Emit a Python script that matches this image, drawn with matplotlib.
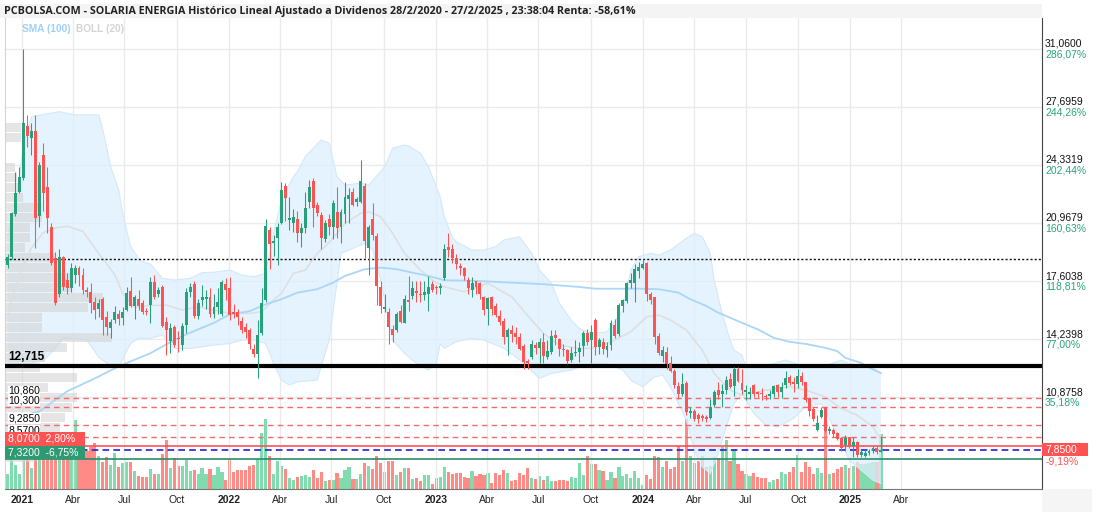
import numpy as np
import matplotlib
matplotlib.use('Agg')
import matplotlib.pyplot as plt
import matplotlib.dates as mdates
from matplotlib.patches import Rectangle
from matplotlib.transforms import blended_transform_factory
import pandas as pd

plt.rcParams['font.family'] = ['Liberation Sans', 'DejaVu Sans']

# weekly candles, first week 7/12/2020
dates = pd.date_range('2020-12-07', periods=221, freq='7D')

open_ = [18.55, 19.0, 21.5, 22.8, 23.6, 26.6, 25.9, 26.3, 21.4, 24.93, 23.1, 20.77, 18.94, 16.9, 19.0, 17.7, 17.2, 17.97, 18.4, 17.97,
         17.1, 17.0, 16.4, 16.0, 16.6, 15.55, 14.88, 15.36, 15.74, 15.5, 15.96, 17.04, 16.17, 16.6, 16.36, 15.86,
         16.23, 17.58, 16.9, 17.3, 15.27, 14.16, 14.98, 14.35, 13.91, 15.07, 17.0, 17.45, 15.6, 16.5, 16.6, 16.7, 15.7, 16.13, 15.74,
         17.48, 17.2, 15.8, 15.84, 15.3, 14.97, 14.78, 13.66, 13.39, 14.59, 16.52, 20.6, 19.85, 20.1, 20.99, 23.15, 21.15, 21.0, 21.2,
         20.39, 20.68, 22.2, 23.4, 22.03, 21.45, 20.04, 21.2, 20.74, 21.65, 20.74, 21.5, 22.35, 22.8, 22.22, 22.22, 23.15, 19.52,
         21.22, 20.23, 17.29, 16.0, 15.84, 14.84, 14.78, 15.88, 15.2, 16.5, 16.75, 17.05, 16.9, 16.8, 16.9, 17.45, 17.3, 17.2, 17.78,
         19.6, 19.46, 18.98, 18.5, 18.36, 17.68, 17.1, 17.6, 17.5, 16.7, 16.0, 16.7, 16.2, 15.6, 15.3, 14.4, 14.8, 14.6, 14.4, 13.85,
         13.0, 13.2, 13.9, 13.75, 14.1, 13.2, 13.5, 14.5, 14.24, 13.7, 13.6, 13.07, 13.45, 13.5, 13.85, 14.59, 14.2,
         15.36, 13.81, 14.1, 13.6, 13.9, 15.1, 14.55, 16.2, 16.46, 17.5, 17.5, 18.2, 18.4, 18.65, 16.85, 16.67, 14.43, 13.3, 13.5,
         12.9, 12.42, 11.55, 11.1, 11.7, 10.0, 10.08, 9.86, 9.8, 9.75, 9.66, 10.43, 11.3, 11.1, 11.3, 11.95, 11.55, 12.5,
         11.7, 11.2, 11.1, 11.6, 11.2, 11.15, 10.95, 10.95, 11.05, 11.6, 11.2, 11.6, 12.06, 11.8, 11.66, 12.1, 11.8, 10.84, 10.2,
         9.0, 9.75, 10.3, 8.95, 8.97, 8.8, 8.55, 8.1, 8.6, 8.05, 8.3, 7.53, 7.5, 7.68, 7.75, 7.95, 7.74]
high = [19.2, 21.65, 23.96, 24.25, 31.06, 27.25, 26.77, 27.25, 24.55, 25.6, 24.25, 20.97, 19.3, 19.46, 19.1, 18.1, 18.65, 18.55, 18.5, 18.4,
        17.3, 17.5, 16.7, 16.6, 16.7, 15.9, 15.45, 16.2, 15.94, 16.1, 17.3, 17.87, 16.8, 17.1, 16.5, 16.05,
        17.87, 17.97, 17.3, 17.4, 15.55, 15.17, 15.1, 14.7, 15.2, 17.2, 17.5, 17.6, 16.6, 17.4, 17.1, 17.2, 16.86, 17.2, 17.7,
        17.8, 17.87, 16.3, 16.0, 15.55, 15.17, 14.88, 13.95, 15.36, 17.2, 21.2, 20.77, 20.3, 20.97, 23.35, 23.29, 22.5, 21.8, 21.7,
        20.97, 22.8, 23.5, 23.58, 22.2, 21.6, 21.16, 21.5, 22.32, 23.1, 21.8, 23.35, 23.0, 23.0, 22.5, 24.64, 23.3, 20.87,
        22.13, 20.43, 17.6, 16.9, 16.05, 15.07, 15.84, 16.23, 16.8, 17.93, 17.6, 17.6, 17.6, 17.6, 17.9, 17.6, 17.4, 17.5, 19.77,
        20.4, 19.75, 19.2, 18.65, 18.46, 17.87, 17.85, 17.65, 17.56, 16.75, 16.71, 16.75, 16.33, 15.94, 15.5, 14.88, 15.07, 14.98, 14.6, 14.0,
        13.1, 14.2, 14.1, 14.3, 14.6, 14.2, 14.8, 14.8, 14.3, 14.0, 13.7, 13.8, 14.2, 14.1, 14.75, 14.85, 15.1,
        15.46, 14.3, 14.3, 14.1, 15.36, 15.4, 16.33, 16.6, 17.55, 18.06, 18.6, 18.7, 18.9, 18.75, 17.0, 16.72, 14.59, 13.85, 13.8,
        13.3, 12.5, 11.8, 12.3, 11.85, 10.3, 10.2, 10.0, 9.9, 9.85, 10.8, 11.33, 11.8, 11.65, 12.1, 12.3, 12.65, 12.65,
        12.55, 11.6, 11.5, 11.65, 11.25, 11.4, 11.05, 11.3, 11.6, 11.65, 11.8, 12.42, 12.2, 12.06, 12.5, 12.35, 11.8, 10.9, 10.3,
        9.85, 10.3, 10.3, 9.2, 9.1, 8.9, 8.6, 8.7, 8.6, 8.6, 8.35, 7.85, 7.85, 7.9, 8.05, 8.05, 8.59]
low = [18.4, 18.9, 21.4, 22.7, 23.5, 25.4, 24.93, 19.52, 20.77, 21.7, 20.39, 18.55, 16.23, 16.72, 17.1, 16.9, 17.0, 17.5, 17.35, 16.9,
       16.7, 15.75, 15.45, 15.55, 14.49, 14.49, 14.3, 15.17, 15.1, 15.1, 15.9, 16.1, 15.45, 15.94, 15.7, 15.65,
       15.17, 16.6, 16.71, 14.97, 13.33, 13.43, 13.8, 13.5, 13.6, 14.6, 16.7, 15.5, 15.4, 16.2, 16.0, 15.55, 15.5, 15.7, 15.6,
       16.5, 15.36, 15.5, 15.1, 14.6, 14.3, 13.7, 13.24, 12.03, 14.5, 16.4, 18.3, 19.1, 18.55, 20.9, 21.1, 20.6, 20.49, 19.9,
       19.6, 20.39, 21.84, 20.77, 21.4, 19.5, 19.9, 20.3, 20.04, 20.1, 19.8, 20.97, 20.97, 21.95, 21.95, 22.15, 18.94, 18.0,
       20.0, 16.23, 15.78, 15.84, 14.0, 14.1, 14.69, 15.17, 15.17, 15.9, 16.6, 16.4, 16.4, 16.5, 15.9, 17.0, 16.85, 16.9, 17.7,
       19.0, 18.65, 18.3, 17.97, 17.7, 16.9, 16.7, 16.85, 16.6, 15.65, 15.1, 15.65, 15.55, 15.1, 14.0, 13.33, 14.1, 13.95, 13.6, 12.55,
       12.5, 13.1, 13.4, 12.9, 12.9, 13.1, 13.4, 13.9, 13.3, 13.3, 12.8, 12.95, 13.3, 12.95, 13.3, 13.9, 12.9,
       13.33, 13.4, 13.4, 13.2, 13.6, 14.35, 14.43, 15.84, 16.33, 17.2, 16.4, 17.8, 18.3, 16.46, 16.3, 14.0, 13.33, 12.94, 12.55,
       12.35, 11.4, 10.8, 10.95, 9.85, 9.7, 9.5, 9.4, 9.5, 9.45, 9.6, 10.3, 10.8, 10.3, 11.05, 11.4, 10.95, 11.75,
       11.1, 10.7, 10.8, 10.9, 10.9, 10.7, 10.7, 10.8, 10.9, 10.9, 10.85, 11.4, 11.6, 11.2, 11.45, 11.6, 10.6, 9.8, 9.5,
       8.95, 9.66, 8.85, 8.75, 8.6, 8.4, 7.8, 7.8, 7.95, 7.4, 7.45, 7.45, 7.45, 7.55, 7.65, 7.6, 7.7]
close = [19.0, 21.55, 22.75, 23.67, 26.77, 26.03, 26.3, 21.26, 24.33, 22.71, 21.3, 18.65, 16.33, 19.0, 17.3, 17.2, 18.36, 18.36, 18.0, 17.1,
         17.0, 16.33, 15.94, 16.36, 15.36, 14.97, 15.27, 15.84, 15.45, 15.8, 16.91, 16.17, 16.71, 16.2, 15.84, 15.82,
         17.58, 16.71, 17.1, 15.01, 14.78, 14.88, 13.91, 14.25, 15.0, 17.0, 17.3, 15.6, 16.33, 16.7, 16.68, 15.7, 16.13, 16.42, 17.58,
         17.1, 15.65, 15.7, 15.55, 14.78, 14.69, 14.0, 13.39, 14.49, 16.33, 20.81, 19.77, 19.92, 20.77, 22.9, 22.41, 21.25, 21.35, 20.39,
         20.68, 21.84, 23.1, 21.84, 21.59, 20.1, 20.97, 20.74, 22.13, 20.68, 21.65, 22.51, 22.61, 22.03, 22.38, 23.42, 19.94, 20.77,
         20.29, 17.33, 16.17, 16.1, 14.93, 14.49, 15.71, 15.27, 16.56, 16.4, 17.2, 16.95, 16.8, 17.0, 17.29, 17.1, 17.2, 17.35, 19.46,
         19.4, 18.94, 18.6, 18.35, 17.9, 17.2, 17.5, 17.3, 16.85, 15.94, 16.62, 16.0, 15.65, 15.27, 14.36, 14.78, 14.55, 14.4, 13.7, 12.94,
         12.85, 14.0, 13.75, 14.1, 13.3, 13.56, 14.43, 14.3, 13.7, 13.6, 13.0, 13.43, 13.5, 13.75, 14.59, 14.1, 14.66,
         13.81, 14.2, 13.7, 13.85, 15.2, 14.43, 16.23, 16.5, 17.5, 17.7, 18.3, 18.46, 18.6, 16.87, 16.5, 14.36, 13.47, 13.6, 12.8,
         12.42, 11.6, 11.1, 11.65, 10.04, 10.1, 9.65, 9.6, 9.7, 9.6, 10.33, 11.2, 11.0, 11.25, 11.9, 11.5, 12.55, 11.85,
         11.3, 11.3, 11.2, 11.1, 11.1, 11.1, 10.9, 11.05, 11.55, 11.2, 11.5, 12.0, 11.72, 11.66, 12.1, 11.75, 10.7, 10.09, 9.6,
         9.4, 10.14, 8.92, 9.05, 8.73, 8.49, 7.92, 8.55, 8.08, 8.3, 7.53, 7.72, 7.68, 7.8, 7.95, 7.72, 7.85]
volume = [15, 35, 24, 15, 40, 38, 21, 45, 40, 42, 40, 38, 40, 36, 34, 35, 33, 69, 39, 35, 38, 42, 46, 33, 27, 32, 24, 36, 22, 26,
          27, 27, 18, 13, 12, 12,
          20, 15, 15, 35, 49, 21, 31, 23, 23, 29, 18, 19, 15, 21, 15, 20, 14, 22, 17, 9, 30, 17, 19, 19, 19, 23, 24, 30, 56, 70,
          33, 15, 28, 23, 20, 11, 9, 12,
          13, 14, 12, 19, 11, 17, 8, 9, 9, 16, 11, 19, 22, 10, 10, 15, 26, 23, 20, 33, 26, 17, 28, 28, 14, 17, 21, 21, 10, 11,
          8, 14, 14, 5, 11, 12, 22,
          17, 15, 16, 16, 12, 11, 18, 13, 15, 14, 16, 6, 16, 14, 19, 16, 8, 9, 16, 14, 21, 11, 10, 13, 9, 13, 8, 8, 9, 9,
          8, 12, 11, 26, 14, 33, 25,
          25, 19, 18, 9, 17, 11, 22, 13, 15, 11, 18, 11, 4, 14, 10, 33, 32, 22, 28, 20, 22, 43, 28, 70, 33, 26, 28, 33, 22, 23,
          32, 31, 42, 49, 28, 40, 25,
          18, 15, 13, 16, 12, 11, 11, 7, 9, 10, 17, 15, 17, 22, 34, 17, 27, 22, 15, 21, 16, 81, 15, 16, 20, 22, 24, 21, 23, 27,
          25, 25, 26, 27, 27, 55]

# Bollinger (20) and SMA (100), read at week indices
upper_idx = [0, 2, 4, 6, 13, 17, 23, 24, 26, 28, 29, 31, 33, 34, 36, 39, 42, 46, 49, 52, 56, 59, 62, 65, 67, 69, 72, 73, 75, 79,
             81, 83, 85, 89, 91, 95, 97, 100, 101, 104, 106, 109, 110, 112, 113, 117, 120, 123, 125, 129, 132, 134, 137, 139, 142,
             144, 147, 151, 155, 157, 159, 162, 164, 167, 171, 173, 175, 177, 178, 180, 182, 183, 185, 186, 190, 193, 196, 201,
             205, 210, 213, 216, 218, 220]
upper_val = [20.3, 22.0, 25.5, 27.15, 27.44, 27.25, 27.25, 26.38, 24.25, 22.9, 21.55, 19.62, 18.94, 18.75, 18.6, 17.78, 17.68,
             17.78, 18.11, 18.13, 18.26, 17.97, 17.87, 18.07, 20.39, 22.32, 23.67, 23.96, 24.83, 25.8, 25.61, 23.67, 23.19, 23.29,
             23.19, 24.25, 25.32, 25.51, 25.45, 25.03, 24.25, 22.51, 21.35, 20.19, 19.9, 19.42, 19.42, 19.62, 20.0, 20.19, 19.23,
             18.26, 17.49, 16.33, 15.36, 14.88, 14.59, 14.68, 15.94, 18.26, 19.03, 19.23, 19.13, 19.42, 20.1, 20.39, 20.19, 19.23,
             17.68, 15.75, 14.2, 13.62, 13.33, 12.65, 12.65, 12.85, 13.04, 12.65, 12.65, 13.04, 12.75, 12.65, 12.6, 12.3]
lower_idx = [0, 4, 9, 12, 14, 16, 20, 23, 26, 28, 31, 33, 36, 39, 42, 46, 49, 52, 56, 59, 62, 65, 67, 69, 71, 73, 78, 81, 84, 86,
             90, 92, 94, 97, 100, 103, 106, 108, 109, 110, 113, 117, 120, 125, 128, 131, 134, 137, 142, 144, 147, 151, 155, 157,
             160, 163, 165, 167, 169, 171, 173, 175, 177, 179, 181, 183, 185, 188, 191, 194, 198, 201, 205, 206, 210, 212, 216,
             218, 220]
lower_val = [12.9, 12.8, 13.0, 13.7, 14.3, 14.3, 14.2, 13.2, 12.7, 12.65, 14.0, 14.3, 14.3, 14.49, 13.72, 13.72, 13.81, 13.91,
             14.0, 14.2, 14.2, 14.0, 12.85, 11.88, 11.59, 11.78, 11.88, 14.2, 19.23, 19.42, 19.81, 19.42, 17.68, 14.2, 13.43,
             12.85, 12.46, 12.85, 14.0, 13.72, 14.1, 14.3, 14.2, 13.72, 13.23, 12.65, 11.98, 12.27, 12.46, 12.65, 12.85, 12.85,
             12.46, 11.88, 11.49, 12.07, 12.17, 11.49, 10.52, 9.55, 7.82, 6.85, 6.47, 7.63, 9.17, 10.52, 11.1, 9.95, 9.27, 9.17,
             9.66, 10.33, 10.52, 10.04, 8.4, 7.24, 6.47, 6.08, 5.89]
mid_idx = [0, 3, 6, 9, 12, 15, 19, 23, 27, 29, 32, 36, 40, 44, 48, 52, 56, 61, 64, 67, 69, 72, 75, 78, 80, 83, 85, 89, 91, 94,
           97, 100, 104, 107, 110, 115, 121, 127, 132, 135, 139, 144, 147, 152, 157, 161, 164, 167, 171, 175, 178, 182, 185, 191,
           197, 201, 206, 210, 214, 218, 220]
mid_val = [15.7, 18.0, 19.55, 20.43, 20.7, 20.8, 20.5, 19.2, 18.0, 16.9, 16.1, 16.2, 16.23, 15.94, 16.13, 15.94, 15.75, 15.75,
           15.84, 16.52, 16.91, 18.07, 18.26, 19.23, 19.62, 20.39, 20.97, 21.55, 21.64, 21.35, 20.39, 19.23, 18.26, 17.68, 17.29,
           17.0, 17.49, 16.71, 15.36, 14.59, 13.91, 13.72, 13.72, 14.1, 14.68, 15.55, 15.65, 15.36, 14.78, 13.62, 12.27, 11.3,
           11.01, 11.3, 11.49, 11.3, 10.91, 10.24, 9.85, 9.17, 8.4]
sma_idx = [6, 8, 15, 22, 28, 36, 40, 44, 48, 52, 56, 61, 65, 69, 73, 78, 82, 85, 90, 94, 98, 102, 106, 110, 118, 127, 135, 144,
           148, 159, 164, 169, 172, 176, 179, 183, 185, 189, 193, 197, 201, 206, 209, 211, 215, 218, 220]
sma_val = [9.95, 10.06, 11.23, 11.98, 12.68, 13.44, 13.95, 14.43, 14.82, 15.2, 15.69, 15.88, 16.27, 16.57, 16.95, 17.15, 17.53,
           17.92, 18.31, 18.4, 18.31, 18.11, 17.92, 17.67, 17.63, 17.53, 17.44, 17.28, 17.18, 17.18, 17.15, 16.95, 16.57, 16.18,
           15.79, 15.4, 15.2, 14.82, 14.33, 14.1, 13.98, 13.75, 13.56, 13.17, 12.88, 12.49, 12.29]

# volume-by-price profile (left side)
profile_price = [26.54, 25.96, 24.22, 23.64, 23.06, 22.48, 21.90, 21.32, 20.74, 20.16, 19.58, 19.00, 18.42, 17.84, 17.26, 16.68,
                 16.10, 15.52, 14.94, 14.36, 13.78, 13.20, 12.62, 12.04, 11.46, 10.88, 10.30, 9.72, 9.14, 8.56, 7.98, 7.40]
profile_vol = [16, 16, 10, 12, 13, 18, 37, 37, 25, 25, 20, 50, 50, 65, 67, 98, 83, 37, 37, 107, 62, 40, 35, 72, 43, 72, 67, 60,
               55, 60, 45, 30]

# price axis labels on the right
right_ticks = [31.06, 27.6959, 24.3319, 20.9679, 17.6038, 14.2398, 10.8758]
right_pct = ['286,07%', '244,26%', '202,44%', '160,63%', '118,81%', '77,00%', '35,18%']

# horizontal levels
resist_level = 18.9
main_level = 12.715
dashed_levels = [10.86, 10.30, 9.285, 8.57]
dashed_labels = ['10,860', '10,300', '9,2850', '8,5700']
last_price = 7.85

RED = '#ff5252'
GREEN = '#26a17b'


def main():
    W, H = 1096, 512
    fig = plt.figure(figsize=(W / 100, H / 100), dpi=100)
    L, R, B, T = 5 / W, 1042 / W, (H - 489) / H, (H - 18.3) / H
    ax_vol = fig.add_axes([L, B, R - L, T - B])
    ax = fig.add_axes([L, B, R - L, T - B], sharex=ax_vol)
    ax.patch.set_visible(False)

    x = mdates.date2num(dates)
    o, h, l, c = map(np.array, (open_, high, low, close))
    up = c >= o

    # volume underneath
    vcol = np.where(up, '#80dcae', '#ff8a86')
    ax_vol.bar(x, volume, width=5.6, color=vcol, linewidth=0)
    ax_vol.set_ylim(0, 470)
    ax_vol.tick_params(left=False, labelleft=False, bottom=False, labelbottom=False)
    for s in ax_vol.spines.values():
        s.set_visible(False)

    ax.set_xlim(mdates.date2num(pd.Timestamp('2020-12-02 12:00')), mdates.date2num(pd.Timestamp('2025-12-05')))
    ax.set_ylim(5.57, 32.85)

    # grid
    ticks = pd.date_range('2021-01-01', '2025-04-01', freq='QS')
    mnames = {1: '', 4: 'Abr', 7: 'Jul', 10: 'Oct'}
    labels = [str(d.year) if d.month == 1 else mnames[d.month] for d in ticks]
    ax.set_xticks(mdates.date2num(ticks))
    ax.set_xticklabels(labels)
    for lab, d in zip(ax.get_xticklabels(), ticks):
        if d.month == 1:
            lab.set_fontweight('bold')
            lab.set_fontsize(8.5)
    ax.tick_params(axis='x', length=0, pad=4, labelsize=7.5, colors='#222222')
    ax.set_yticks(right_ticks)
    ax.tick_params(axis='y', left=False, labelleft=False, right=False)
    ax.grid(True, color='#ebebeb', linewidth=1)
    ax.set_axisbelow(True)
    ax.spines['top'].set_visible(False)
    ax.spines['left'].set_color('#d5d5d5')
    ax.spines['right'].set_color('#444444')
    ax.spines['bottom'].set_color('#777777')

    # bollinger band
    ux, lx, mx, sx = x[upper_idx], x[lower_idx], x[mid_idx], x[sma_idx]
    px = np.concatenate([ux, lx[::-1]])
    py = np.concatenate([upper_val, lower_val[::-1]])
    ax.fill(px, py, color='#dcf0fd', alpha=0.75, lw=0, zorder=1)
    ax.plot(ux, upper_val, color='#d2e9fa', lw=0.8, zorder=1.2)
    ax.plot(lx, lower_val, color='#d2e9fa', lw=0.8, zorder=1.2)

    trans = blended_transform_factory(ax.transAxes, ax.transData)
    axw = 1037.0
    for p, v in zip(profile_price, profile_vol):
        ax.add_patch(Rectangle((0, p - 0.27), v / axw, 0.54, transform=trans,
                               facecolor='#d4d4d4', alpha=0.6, lw=0, zorder=1.5))

    ax.plot(mx, mid_val, color='#dedede', lw=1.1, zorder=2)
    ax.plot(sx, sma_val, color='#aad6f8', lw=1.3, zorder=2.1)

    # levels
    ax.axhline(resist_level, color='#111111', lw=1, ls=(0, (1.5, 1.5)), zorder=3)
    ax.axhline(main_level, color='black', lw=3, zorder=3)
    for lv in dashed_levels:
        ax.axhline(lv, color='#f26b6b', lw=1, ls=(0, (4, 3)), zorder=3)
    ax.axhline(8.07, color=RED, lw=1.2, zorder=3)
    ax.axhline(last_price, color='#2323d6', lw=1.2, ls=(0, (4, 2.5)), zorder=3)
    ax.axhline(7.32, color='#2e8b6a', lw=1.2, zorder=3)

    # candles
    col = np.where(up, GREEN, RED)
    ax.vlines(x, l, h, colors=col, lw=0.75, zorder=4)
    ax.bar(x, np.maximum(np.abs(c - o), 0.06), bottom=np.minimum(o, c), width=5.2,
           color=col, linewidth=0, zorder=5)

    # left labels
    ax.text(0.003, main_level + 0.15, '12,715', transform=trans, fontsize=8.5, fontweight='bold',
            va='bottom', ha='left', zorder=6)
    for lv, s in zip(dashed_levels, dashed_labels):
        ax.text(0.003, lv + 0.1, s, transform=trans, fontsize=7.5, va='bottom', ha='left', zorder=6,
                bbox=dict(facecolor='white', edgecolor='none', pad=0.3))
    ax.add_patch(Rectangle((0, 8.07), 80 / axw, 0.8, transform=trans, facecolor=RED, lw=0, zorder=6))
    ax.text(0.003, 8.07 + 0.4, '8,0700  2,80%', transform=trans, fontsize=7.5, color='white',
            va='center', ha='left', zorder=7)
    ax.add_patch(Rectangle((0, 7.32), 80 / axw, 0.75, transform=trans, facecolor='#2e9a74', lw=0, zorder=6))
    ax.text(0.003, 7.32 + 0.37, '7,3200  -6,75%', transform=trans, fontsize=7.5, color='white',
            va='center', ha='left', zorder=7)

    # right labels
    for v, pct in zip(right_ticks, right_pct):
        ax.text(1.003, v + 0.02, f'{v:.4f}'.replace('.', ','), transform=trans, fontsize=7.5,
                color='#111111', va='bottom', ha='left', clip_on=False)
        ax.text(1.003, v - 0.02, pct, transform=trans, fontsize=7.5, color='#2aa57c',
                va='top', ha='left', clip_on=False)
    ax.add_patch(Rectangle((1.0, last_price - 0.37), 46 / axw, 0.74, transform=trans,
                           facecolor=RED, lw=0, clip_on=False, zorder=6))
    ax.text(1.003, last_price, f'{last_price:.4f}'.replace('.', ','), transform=trans, fontsize=7.5,
            color='white', va='center', ha='left', clip_on=False, zorder=7)
    ax.text(1.003, last_price - 0.42, '-9,19%', transform=trans, fontsize=7.5, color=RED,
            va='top', ha='left', clip_on=False)

    # title bar and legend
    fig.add_artist(Rectangle((0, (H - 18) / H), 1042 / W, 14 / H, transform=fig.transFigure,
                             facecolor='#f4f4f4', lw=0, zorder=-1))
    fig.text(4 / W, 1 - 11.5 / H,
             'PCBOLSA.COM - SOLARIA ENERGIA Histórico Lineal Ajustado a Dividenos 28/2/2020 - 27/2/2025 , 23:38:04 Renta: -58,61%',
             fontsize=7.75, fontweight='bold', family=['Open Sans', 'DejaVu Sans'], color='#222222', va='center')
    fig.text(22 / W, 1 - 29.5 / H, 'SMA (100)', fontsize=7.3, fontweight='bold', color='#9fd0f7', va='center')
    fig.text(76 / W, 1 - 29.5 / H, 'BOLL (20)', fontsize=7.3, fontweight='bold', color='#d4d4d4', va='center')
    fig.add_artist(Rectangle((1042 / W, 0), 50 / W, 23 / H, transform=fig.transFigure,
                             facecolor='#f5f5f5', lw=0, zorder=-1))

    fig.savefig('out.png', dpi=100)
    plt.close(fig)


if __name__ == '__main__':
    main()
